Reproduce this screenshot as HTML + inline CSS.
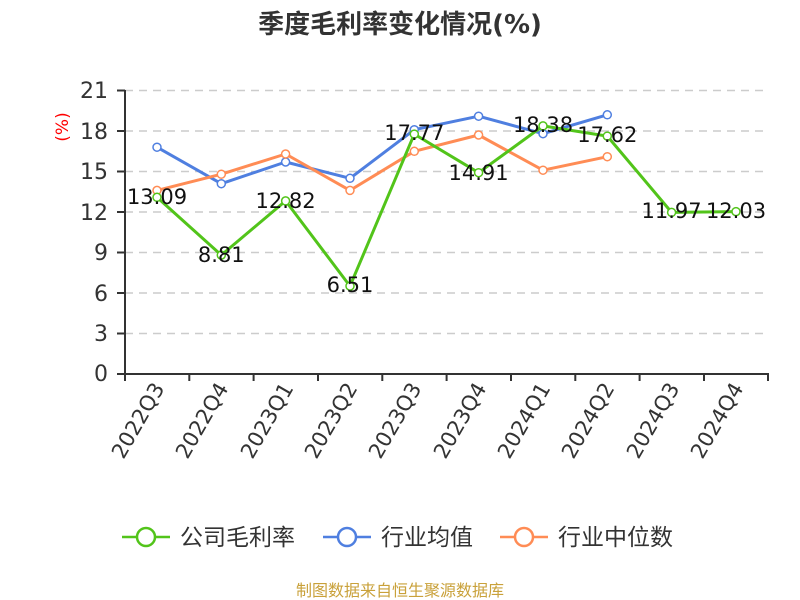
<!DOCTYPE html><html><head><meta charset="utf-8"><style>body{margin:0;background:#fff}svg{display:block}text{font-family:"DejaVu Sans","Noto Sans CJK SC",sans-serif}</style></head><body>
<svg width="800" height="600" viewBox="0 0 800 600">
<text x="400" y="33" text-anchor="middle" font-size="26" font-weight="bold" fill="#333">季度毛利率变化情况(%)</text>
<g stroke="#ccc" stroke-width="1.5" stroke-dasharray="8,6">
<line x1="125" x2="768" y1="90.5" y2="90.5"/><line x1="125" x2="768" y1="131" y2="131"/><line x1="125" x2="768" y1="171.5" y2="171.5"/><line x1="125" x2="768" y1="212" y2="212"/><line x1="125" x2="768" y1="252.5" y2="252.5"/><line x1="125" x2="768" y1="293" y2="293"/><line x1="125" x2="768" y1="333.5" y2="333.5"/></g>
<g stroke="#333" stroke-width="2"><line x1="125" y1="90" x2="125" y2="374"/><line x1="124" y1="374" x2="769" y2="374"/>
<line x1="117" x2="125" y1="90.5" y2="90.5"/><line x1="117" x2="125" y1="131" y2="131"/><line x1="117" x2="125" y1="171.5" y2="171.5"/><line x1="117" x2="125" y1="212" y2="212"/><line x1="117" x2="125" y1="252.5" y2="252.5"/><line x1="117" x2="125" y1="293" y2="293"/><line x1="117" x2="125" y1="333.5" y2="333.5"/><line x1="117" x2="125" y1="374" y2="374"/>
<line x1="125" x2="125" y1="374" y2="381"/><line x1="189.3" x2="189.3" y1="374" y2="381"/><line x1="253.6" x2="253.6" y1="374" y2="381"/><line x1="318" x2="318" y1="374" y2="381"/><line x1="382.3" x2="382.3" y1="374" y2="381"/><line x1="446.6" x2="446.6" y1="374" y2="381"/><line x1="511" x2="511" y1="374" y2="381"/><line x1="575.3" x2="575.3" y1="374" y2="381"/><line x1="639.6" x2="639.6" y1="374" y2="381"/><line x1="704" x2="704" y1="374" y2="381"/><line x1="768" x2="768" y1="374" y2="381"/></g>
<g font-size="22" fill="#333" text-anchor="end">
<text x="108" y="98">21</text><text x="108" y="139">18</text><text x="108" y="179">15</text><text x="108" y="220">12</text><text x="108" y="260">9</text><text x="108" y="301">6</text><text x="108" y="341">3</text><text x="108" y="381">0</text></g>
<text x="68" y="127" font-size="17" fill="red" text-anchor="middle" transform="rotate(-90 68 127)">(%)</text>
<g font-size="21" fill="#333" text-anchor="end">
<text transform="translate(165,388) rotate(-60)">2022Q3</text><text transform="translate(229,388) rotate(-60)">2022Q4</text><text transform="translate(294,388) rotate(-60)">2023Q1</text><text transform="translate(358,388) rotate(-60)">2023Q2</text><text transform="translate(422,388) rotate(-60)">2023Q3</text><text transform="translate(487,388) rotate(-60)">2023Q4</text><text transform="translate(551,388) rotate(-60)">2024Q1</text><text transform="translate(615,388) rotate(-60)">2024Q2</text><text transform="translate(680,388) rotate(-60)">2024Q3</text><text transform="translate(744,388) rotate(-60)">2024Q4</text></g>
<g fill="none" stroke-width="3" stroke-linejoin="round">
<polyline stroke="#4f7fe0" points="157,147.2 221.3,183.7 285.6,162 350,178.3 414.3,129.7 478.6,116.2 543,133.7 607.3,114.8"/>
<polyline stroke="#ff8c55" points="157,190.4 221.3,174.2 285.6,154 350,190.4 414.3,151.3 478.6,135 543,170.2 607.3,156.7"/>
<polyline stroke="#52c41a" points="157,197.3 221.3,255.1 285.6,200.9 350,286.1 414.3,134.1 478.6,172.7 543,125.9 607.3,136.1 671.6,212.4 736,211.6"/></g>
<g fill="#fff" stroke-width="1.5">
<g stroke="#4f7fe0"><circle cx="157" cy="147.2" r="4"/><circle cx="221.3" cy="183.7" r="4"/><circle cx="285.6" cy="162" r="4"/><circle cx="350" cy="178.3" r="4"/><circle cx="414.3" cy="129.7" r="4"/><circle cx="478.6" cy="116.2" r="4"/><circle cx="543" cy="133.7" r="4"/><circle cx="607.3" cy="114.8" r="4"/></g>
<g stroke="#ff8c55"><circle cx="157" cy="190.4" r="4"/><circle cx="221.3" cy="174.2" r="4"/><circle cx="285.6" cy="154" r="4"/><circle cx="350" cy="190.4" r="4"/><circle cx="414.3" cy="151.3" r="4"/><circle cx="478.6" cy="135" r="4"/><circle cx="543" cy="170.2" r="4"/><circle cx="607.3" cy="156.7" r="4"/></g>
<g stroke="#52c41a"><circle cx="157" cy="197.3" r="4"/><circle cx="221.3" cy="255.1" r="4"/><circle cx="285.6" cy="200.9" r="4"/><circle cx="350" cy="286.1" r="4"/><circle cx="414.3" cy="134.1" r="4"/><circle cx="478.6" cy="172.7" r="4"/><circle cx="543" cy="125.9" r="4"/><circle cx="607.3" cy="136.1" r="4"/><circle cx="671.6" cy="212.4" r="4"/><circle cx="736" cy="211.6" r="4"/></g></g>
<g font-size="21" fill="#111" text-anchor="middle">
<text x="157" y="204">13.09</text><text x="221.3" y="262">8.81</text><text x="285.6" y="208">12.82</text><text x="350" y="292">6.51</text><text x="414.3" y="140">17.77</text><text x="478.6" y="180">14.91</text><text x="543" y="132">18.38</text><text x="607.3" y="142">17.62</text><text x="671.6" y="218">11.97</text><text x="736" y="218">12.03</text></g>
<g stroke-width="2.5" fill="#fff">
<line x1="122" x2="170" y1="537" y2="537" stroke="#52c41a"/><circle cx="146" cy="537" r="9" stroke="#52c41a"/>
<line x1="323" x2="371" y1="537" y2="537" stroke="#4f7fe0"/><circle cx="347" cy="537" r="9" stroke="#4f7fe0"/>
<line x1="500" x2="548" y1="537" y2="537" stroke="#ff8c55"/><circle cx="524" cy="537" r="9" stroke="#ff8c55"/></g>
<g font-size="23" fill="#333"><text x="180" y="545">公司毛利率</text><text x="381" y="545">行业均值</text><text x="558" y="545">行业中位数</text></g>
<text x="400" y="596" text-anchor="middle" font-size="16" fill="#c9a13a">制图数据来自恒生聚源数据库</text>
</svg></body></html>
